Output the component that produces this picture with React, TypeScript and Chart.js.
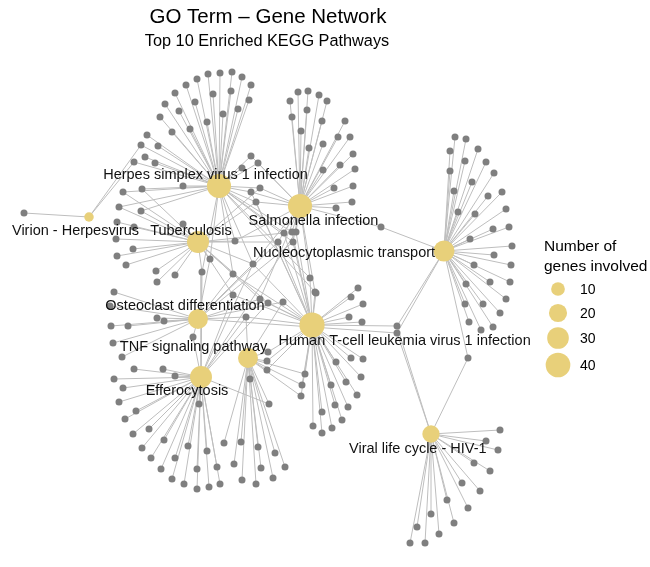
import React, { useEffect, useRef } from "react";
import { Chart, registerables } from "chart.js";

Chart.register(...registerables);

// pathway (hub) nodes, layout units = pixels of the 650x567 frame
const pathways = [
  "Herpes simplex virus 1 infection",
  "Salmonella infection",
  "Tuberculosis",
  "Virion - Herpesvirus",
  "Nucleocytoplasmic transport",
  "Osteoclast differentiation",
  "Human T-cell leukemia virus 1 infection",
  "TNF signaling pathway",
  "Efferocytosis",
  "Viral life cycle - HIV-1",
];
const pathwayCodes = ["H", "S", "T", "V", "N", "O", "U", "F", "E", "L"];
const pathwayX = [219, 300, 198, 89, 444, 198, 312, 248, 201, 431];
const pathwayY = [186, 206, 242, 217, 251, 319, 325, 358, 377, 434];
const pathwayGenes = [38, 38, 31, 3, 28, 25, 42, 25, 31, 18];
const labelDx = [-13.5, 13.5, -7, -13.5, -100, -13, 92.6, -54.4, -14, -13.2];
const labelDy = [-11, 15, -11.5, 13.7, 1.6, -13.3, 16, -10.6, 14, 15];
const legendCounts = [10, 20, 30, 40];

// gene nodes linked to one pathway
const herpesGenes = [
  [208, 74], [220, 73], [232, 72], [242, 77], [251, 85], [249, 100], [238, 109], [231, 91],
  [213, 94], [197, 79], [186, 85], [175, 93], [195, 102], [179, 111], [165, 104], [160, 117],
  [223, 114], [207, 122], [190, 129], [172, 132], [147, 135], [158, 146], [155, 163], [145, 157],
  [183, 186], [242, 168],
];
const salmonellaGenes = [
  [298, 92], [308, 91], [319, 95], [327, 101], [290, 101], [307, 110], [292, 117], [322, 121],
  [345, 121], [301, 131], [338, 137], [350, 137], [323, 144], [309, 148], [353, 154], [340, 165],
  [355, 169], [323, 170], [353, 186], [334, 188], [352, 202], [336, 208],
];
const tuberculosisGenes = [
  [117, 222], [134, 227], [116, 239], [133, 249], [117, 256], [126, 265], [156, 271], [175, 275],
  [157, 282], [183, 224],
];
const virionGenes = [[24, 213]];
const nucleoGenes = [
  [455, 137], [466, 139], [450, 151], [478, 149], [465, 161], [486, 162], [450, 171], [472, 182],
  [494, 173], [454, 191], [488, 196], [502, 192], [458, 212], [475, 214], [506, 209], [493, 229],
  [509, 227], [470, 239], [512, 246], [494, 255], [511, 265], [474, 265], [490, 282], [510, 282],
  [466, 284], [506, 299], [483, 304], [465, 304], [500, 313], [469, 322], [493, 327], [481, 330],
];
const osteoclastGenes = [
  [110, 306], [111, 326], [128, 326], [157, 318], [164, 321], [113, 343], [122, 357], [114, 292],
];
const htlvGenes = [
  [358, 288], [351, 297], [363, 304], [349, 317], [362, 322], [336, 362], [351, 358], [363, 359],
  [346, 382], [361, 377], [357, 395], [331, 385], [335, 405], [348, 407], [322, 412], [342, 420],
  [332, 428], [313, 426], [322, 433], [316, 293],
];
const tnfGenes = [
  [224, 443], [241, 442], [258, 447], [234, 464], [261, 468], [275, 453], [285, 467], [242, 480],
  [256, 484], [273, 478], [250, 379],
];
const efferocytosisGenes = [
  [134, 369], [163, 369], [175, 376], [114, 379], [123, 388], [119, 402], [136, 411], [125, 419],
  [149, 429], [133, 434], [164, 440], [142, 448], [188, 446], [151, 458], [175, 458], [207, 451],
  [161, 469], [197, 469], [217, 467], [172, 479], [184, 484], [197, 489], [209, 487], [220, 484],
  [199, 404],
];
const viralCycleGenes = [
  [500, 430], [486, 441], [498, 450], [474, 463], [490, 471], [462, 483], [480, 491], [447, 500],
  [468, 508], [431, 514], [454, 523], [417, 527], [439, 534], [410, 543], [425, 543],
];

// gene nodes shared by several pathways (codes as in pathwayCodes)
const sharedGenes: [number, number, string][] = [
  [134, 162, "HV"], [141, 145, "HV"],
  [251, 156, "HS"], [258, 163, "HS"], [251, 192, "HSU"], [260, 188, "HST"], [256, 202, "HSUT"],
  [142, 189, "HT"], [123, 192, "HT"], [119, 207, "TH"], [141, 211, "TH"],
  [235, 241, "TSH"], [210, 259, "TOH"], [202, 272, "TEH"], [233, 274, "TUHO"], [253, 264, "THUOES"],
  [278, 242, "SUTO"], [284, 233, "SUTH"], [292, 232, "SHU"], [296, 232, "SUE"], [293, 242, "SUHO"],
  [310, 278, "USH"], [315, 292, "UHS"],
  [260, 299, "UOTS"], [268, 303, "UTE"], [283, 302, "UOF"], [246, 317, "UOEF"], [233, 295, "UTE"],
  [193, 337, "OE"],
  [305, 374, "FU"], [302, 385, "FU"], [301, 396, "FU"], [268, 352, "FU"], [267, 361, "FU"], [267, 370, "FU"],
  [269, 404, "FE"],
  [381, 227, "SN"],
  [397, 326, "UNL"], [397, 333, "ONL"], [468, 358, "NL"],
];

const ownGenes: [string, number[][]][] = [
  ["H", herpesGenes], ["S", salmonellaGenes], ["T", tuberculosisGenes], ["V", virionGenes],
  ["N", nucleoGenes], ["O", osteoclastGenes], ["U", htlvGenes], ["F", tnfGenes],
  ["E", efferocytosisGenes], ["L", viralCycleGenes],
];

const sizeRadius = (n: number) => Math.sqrt(12 + 3.5 * n);

const FONT = "'Liberation Sans', Arial, sans-serif";

const textPlugin = {
  id: "networkText",
  afterDatasetsDraw(chart: any) {
    const { ctx } = chart;
    const xs = chart.scales.x;
    const ys = chart.scales.y;
    ctx.save();
    ctx.textBaseline = "middle";
    ctx.textAlign = "center";
    ctx.fillStyle = "#111";
    ctx.font = `14.5px ${FONT}`;
    pathways.forEach((name, i) => {
      ctx.fillText(
        name,
        xs.getPixelForValue(pathwayX[i] + labelDx[i]),
        ys.getPixelForValue(pathwayY[i] + labelDy[i])
      );
    });

    ctx.fillStyle = "#000";
    ctx.font = `20.5px ${FONT}`;
    ctx.fillText("GO Term \u2013 Gene Network", 268, 17);
    ctx.font = `16.3px ${FONT}`;
    ctx.fillText("Top 10 Enriched KEGG Pathways", 267, 42);

    // size legend
    ctx.textAlign = "left";
    ctx.font = `15.5px ${FONT}`;
    ctx.fillText("Number of", 544, 247);
    ctx.fillText("genes involved", 544, 267);
    const keyY = [289, 313, 338, 365];
    ctx.font = `14px ${FONT}`;
    legendCounts.forEach((n, i) => {
      ctx.fillStyle = "#E8D07A";
      ctx.beginPath();
      ctx.arc(558, keyY[i], sizeRadius(n), 0, Math.PI * 2);
      ctx.fill();
      ctx.fillStyle = "#000";
      ctx.fillText(String(n), 580, keyY[i] + 1);
    });
    ctx.restore();
  },
};

const App: React.FC = () => {
  const canvasRef = useRef<HTMLCanvasElement | null>(null);

  useEffect(() => {
    document.body.style.margin = "0";
    if (!canvasRef.current) return;

    const genePoints: { x: number; y: number }[] = [];
    const edges: { x: number; y: number }[] = [];
    const link = (gx: number, gy: number, code: string) => {
      const h = pathwayCodes.indexOf(code);
      edges.push({ x: gx, y: gy }, { x: pathwayX[h], y: pathwayY[h] }, { x: NaN, y: NaN });
    };
    ownGenes.forEach(([code, list]) => {
      list.forEach(([gx, gy]) => {
        genePoints.push({ x: gx, y: gy });
        link(gx, gy, code);
      });
    });
    sharedGenes.forEach(([gx, gy, codes]) => {
      genePoints.push({ x: gx, y: gy });
      codes.split("").forEach((c) => link(gx, gy, c));
    });

    const chart = new Chart(canvasRef.current, {
      type: "scatter",
      data: {
        datasets: [
          {
            label: "pathways",
            data: pathwayX.map((x, i) => ({ x, y: pathwayY[i] })),
            backgroundColor: "#E8D07A",
            borderWidth: 0,
            pointRadius: pathwayGenes.map(sizeRadius),
            pointHoverRadius: pathwayGenes.map(sizeRadius),
          },
          {
            label: "genes",
            data: genePoints,
            backgroundColor: "#7f7f7f",
            borderWidth: 0,
            pointRadius: 3.5,
            pointHoverRadius: 3.5,
          },
          {
            label: "edges",
            data: edges,
            showLine: true,
            spanGaps: false,
            borderColor: "#bebebe",
            borderWidth: 1,
            pointRadius: 0,
          },
        ],
      },
      options: {
        animation: false,
        responsive: false,
        maintainAspectRatio: false,
        layout: { padding: 0, autoPadding: false },
        plugins: { legend: { display: false }, tooltip: { enabled: false } },
        scales: {
          x: { type: "linear", min: 0, max: 650, display: false },
          y: { type: "linear", min: 0, max: 567, reverse: true, display: false },
        },
        clip: false as any,
      },
      plugins: [textPlugin],
    });

    return () => chart.destroy();
  }, []);

  return (
    <div style={{ width: 650, height: 567, background: "#fff" }}>
      <canvas ref={canvasRef} width={650} height={567}></canvas>
    </div>
  );
};

export default App;
